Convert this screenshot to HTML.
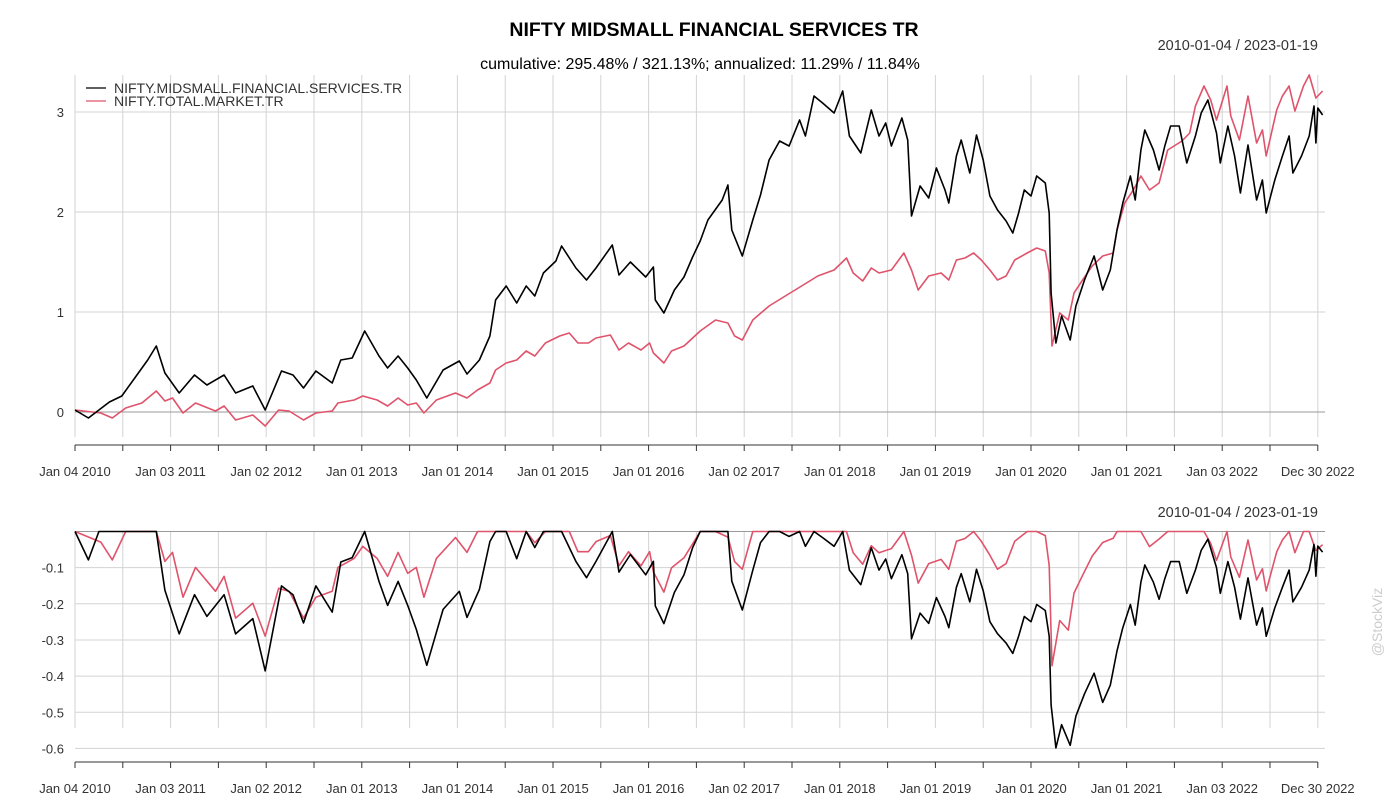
<!DOCTYPE html>
<html><head><meta charset="utf-8"><style>
body{margin:0;background:#fff;}
svg{display:block;font-family:"Liberation Sans",sans-serif;}
</style></head><body>
<svg id="chart" width="1400" height="800">
<text x="714" y="36" text-anchor="middle" font-size="19.5" font-weight="bold" fill="#000">NIFTY MIDSMALL FINANCIAL SERVICES TR</text>
<text x="700" y="69" text-anchor="middle" font-size="16" fill="#000">cumulative: 295.48% / 321.13%; annualized: 11.29% / 11.84%</text>
<text x="1318" y="50" text-anchor="end" font-size="14.5" fill="#333">2010-01-04 / 2023-01-19</text>
<text x="1318" y="517" text-anchor="end" font-size="14.5" fill="#333">2010-01-04 / 2023-01-19</text>
<text x="1382" y="622" text-anchor="middle" font-size="14" fill="#ccc" transform="rotate(-90 1382 622)">@StockViz</text>
<g id="toppanel"></g>
<g id="botpanel"></g>
<g>
<line x1="86" y1="88" x2="106" y2="88" stroke="#000" stroke-width="1.2"/>
<text x="114" y="93" font-size="14" fill="#333">NIFTY.MIDSMALL.FINANCIAL.SERVICES.TR</text>
<line x1="86" y1="101" x2="106" y2="101" stroke="#DF536B" stroke-width="1.2"/>
<text x="114" y="106" font-size="14" fill="#333">NIFTY.TOTAL.MARKET.TR</text>
</g>
</svg>
<script>
const blackT=[2010.0,2010.14,2010.25,2010.36,2010.49,2010.64,2010.76,2010.85,2010.94,2011.09,2011.25,2011.38,2011.56,2011.68,2011.86,2011.99,2012.16,2012.28,2012.39,2012.52,2012.69,2012.78,2012.9,2013.03,2013.18,2013.27,2013.38,2013.48,2013.57,2013.68,2013.85,2014.02,2014.1,2014.23,2014.34,2014.4,2014.51,2014.62,2014.72,2014.81,2014.9,2015.03,2015.09,2015.24,2015.35,2015.45,2015.62,2015.69,2015.81,2015.97,2016.05,2016.07,2016.16,2016.27,2016.37,2016.46,2016.54,2016.62,2016.77,2016.83,2016.87,2016.98,2017.09,2017.17,2017.26,2017.37,2017.47,2017.58,2017.64,2017.73,2017.82,2017.94,2018.03,2018.1,2018.22,2018.33,2018.41,2018.48,2018.54,2018.65,2018.71,2018.75,2018.84,2018.93,2019.01,2019.1,2019.14,2019.22,2019.27,2019.36,2019.43,2019.5,2019.57,2019.65,2019.74,2019.81,2019.87,2019.93,2020.0,2020.06,2020.15,2020.19,2020.21,2020.26,2020.32,2020.41,2020.47,2020.56,2020.66,2020.75,2020.83,2020.9,2020.96,2021.04,2021.09,2021.15,2021.19,2021.28,2021.34,2021.4,2021.46,2021.55,2021.63,2021.72,2021.78,2021.85,2021.94,2021.98,2022.06,2022.13,2022.19,2022.27,2022.36,2022.42,2022.46,2022.55,2022.63,2022.7,2022.74,2022.83,2022.91,2022.96,2022.98,2023.0,2023.05];
const blackV=[0.02,-0.06,0.02,0.1,0.16,0.36,0.52,0.66,0.39,0.19,0.37,0.27,0.37,0.19,0.26,0.02,0.41,0.37,0.24,0.41,0.29,0.52,0.54,0.81,0.56,0.44,0.56,0.44,0.32,0.14,0.42,0.51,0.38,0.52,0.76,1.12,1.26,1.09,1.26,1.16,1.39,1.51,1.66,1.44,1.32,1.44,1.67,1.37,1.5,1.35,1.45,1.12,0.99,1.22,1.35,1.55,1.71,1.92,2.12,2.27,1.82,1.56,1.92,2.17,2.52,2.71,2.66,2.92,2.76,3.16,3.09,2.99,3.21,2.76,2.59,3.02,2.76,2.89,2.66,2.94,2.72,1.96,2.26,2.14,2.44,2.22,2.09,2.56,2.72,2.39,2.77,2.52,2.16,2.02,1.91,1.79,1.99,2.22,2.16,2.36,2.29,1.99,1.19,0.69,0.96,0.72,1.06,1.32,1.56,1.22,1.42,1.82,2.09,2.36,2.12,2.62,2.82,2.62,2.42,2.66,2.86,2.86,2.49,2.76,2.99,3.12,2.79,2.49,2.86,2.56,2.19,2.67,2.12,2.32,1.99,2.32,2.56,2.76,2.39,2.56,2.76,3.06,2.69,3.04,2.97];
const redT=[2010.0,2010.27,2010.39,2010.53,2010.7,2010.85,2010.94,2011.02,2011.13,2011.26,2011.47,2011.56,2011.68,2011.86,2011.99,2012.13,2012.24,2012.39,2012.52,2012.69,2012.75,2012.92,2013.01,2013.16,2013.27,2013.38,2013.48,2013.57,2013.65,2013.78,2013.98,2014.1,2014.21,2014.34,2014.4,2014.51,2014.62,2014.72,2014.81,2014.92,2015.07,2015.17,2015.26,2015.37,2015.45,2015.6,2015.69,2015.79,2015.92,2016.01,2016.05,2016.16,2016.24,2016.37,2016.54,2016.7,2016.83,2016.9,2016.98,2017.09,2017.26,2017.43,2017.6,2017.77,2017.94,2018.07,2018.14,2018.24,2018.33,2018.41,2018.54,2018.67,2018.75,2018.82,2018.93,2019.06,2019.14,2019.22,2019.31,2019.4,2019.48,2019.57,2019.65,2019.74,2019.83,2019.96,2020.06,2020.15,2020.19,2020.22,2020.3,2020.39,2020.45,2020.54,2020.64,2020.75,2020.86,2020.9,2020.98,2021.07,2021.15,2021.24,2021.34,2021.43,2021.58,2021.66,2021.72,2021.81,2021.88,2021.94,2022.05,2022.09,2022.18,2022.27,2022.36,2022.42,2022.46,2022.57,2022.63,2022.7,2022.76,2022.85,2022.91,2022.98,2023.05];
const redV=[0.02,-0.01,-0.06,0.04,0.09,0.21,0.11,0.14,-0.01,0.09,0.01,0.06,-0.08,-0.03,-0.14,0.02,0.01,-0.08,-0.01,0.01,0.09,0.12,0.16,0.12,0.06,0.14,0.07,0.09,-0.01,0.12,0.19,0.14,0.22,0.29,0.42,0.49,0.52,0.61,0.56,0.69,0.76,0.79,0.69,0.69,0.74,0.77,0.62,0.69,0.62,0.69,0.59,0.49,0.61,0.66,0.81,0.92,0.89,0.76,0.72,0.92,1.06,1.16,1.26,1.36,1.42,1.54,1.39,1.31,1.44,1.39,1.42,1.59,1.42,1.22,1.36,1.39,1.32,1.52,1.54,1.59,1.52,1.42,1.32,1.36,1.52,1.59,1.64,1.61,1.39,0.66,0.99,0.92,1.19,1.32,1.46,1.56,1.59,1.82,2.09,2.22,2.36,2.22,2.29,2.62,2.71,2.79,3.06,3.26,3.12,2.92,3.26,2.96,2.72,3.16,2.69,2.82,2.56,3.02,3.16,3.26,3.01,3.26,3.37,3.14,3.21];
const topTicks=[0,1,2,3];
const botTicks=[-0.1,-0.2,-0.3,-0.4,-0.5,-0.6];
const yearLabels=["Jan 04 2010","Jan 03 2011","Jan 02 2012","Jan 01 2013","Jan 01 2014","Jan 01 2015","Jan 01 2016","Jan 02 2017","Jan 01 2018","Jan 01 2019","Jan 01 2020","Jan 01 2021","Jan 03 2022","Dec 30 2022"];
const labelT=[2010.0,2011.0,2012.0,2013.0,2014.0,2015.0,2016.0,2017.0,2018.0,2019.0,2020.0,2021.0,2022.0,2023.0];

const NS="http://www.w3.org/2000/svg";
const X0=75;
function xs(t){return 75+(t-2010.0)*95.6;}
function yTop(v){return 412-v*100;}
function yB(v){return 531.5+(-v)*361.5;}
function mk(tag,attrs,parent){const e=document.createElementNS(NS,tag);for(const k in attrs)e.setAttribute(k,attrs[k]);parent.appendChild(e);return e;}
function dd(vals){let m=-Infinity;return vals.map(v=>{m=Math.max(m,v);return (1+v)/(1+m)-1;});}

function panel(g,yf,ticks,gTop,gBot,axisY,zeroY,fmt){
  for(let t=2010.0;t<=2023.0;t+=0.5){
    const x=xs(t);
    let l=mk('line',{x1:x,y1:gTop,x2:x,y2:gBot,stroke:'#d3d3d3','stroke-width':1},g);
    
    
    let tk=mk('line',{x1:x,y1:axisY,x2:x,y2:axisY+6,stroke:'#333','stroke-width':1},g);
    
    
  }
  ticks.forEach(v=>{
    const y=yf(v);
    let l=mk('line',{x1:X0,y1:y,x2:1325,y2:y,stroke:'#d3d3d3','stroke-width':1},g);
    
    
    let tx=mk('text',{x:64,y:y+5,'text-anchor':'end','font-size':13,fill:'#333'},g);
    tx.textContent=fmt(v);
    
    
  });
  let z=mk('line',{x1:X0,y1:zeroY,x2:1325,y2:zeroY,stroke:'#999','stroke-width':1},g);
  
  
  let ax=mk('line',{x1:X0,y1:axisY,x2:xs(2023.0),y2:axisY,stroke:'#333','stroke-width':1},g);
  
  
  yearLabels.forEach((s,i)=>{
    let tx=mk('text',{x:xs(labelT[i]),y:axisY+31,'text-anchor':'middle','font-size':13,fill:'#333'},g);
    tx.textContent=s;
    
    
  });
}
function series(g,T,V,yf,color,name){
  const d=T.map((t,i)=>(i?'L':'M')+xs(t).toFixed(1)+','+yf(V[i]).toFixed(1)).join('');
  let p=mk('path',{d:d,fill:'none',stroke:color,'stroke-width':1.6,'stroke-linejoin':'round'},g);
  
  
}
const topPanel=document.getElementById('toppanel'), botPanel=document.getElementById('botpanel');
panel(topPanel,yTop,topTicks,75,437,445,412,v=>String(v));
panel(botPanel,yB,botTicks,531,728,762,531.5,v=>String(v));
series(topPanel,redT,redV,yTop,'#DF536B','total-market-cumulative-line');
series(topPanel,blackT,blackV,yTop,'#000','midsmall-cumulative-line');
series(botPanel,redT,dd(redV),yB,'#DF536B','total-market-drawdown-line');
series(botPanel,blackT,dd(blackV),yB,'#000','midsmall-drawdown-line');
</script>
</body></html>
